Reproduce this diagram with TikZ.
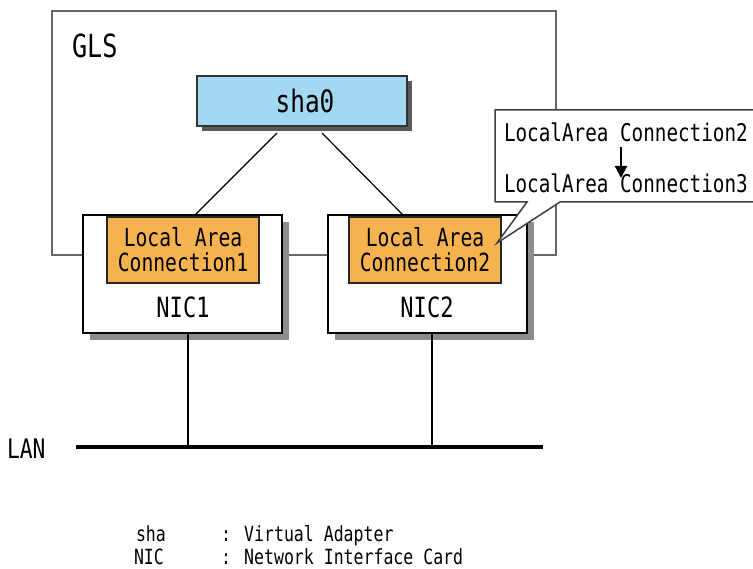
\documentclass[tikz,border=0pt]{standalone}
\usepackage{fontspec}
\newfontfamily\monof[FakeStretch=0.79]{DejaVu Sans Mono}
\usetikzlibrary{calc,shadows,arrows.meta}
\definecolor{shablue}{HTML}{A3D8F2}
\definecolor{lacorange}{HTML}{F5B350}
\newcommand\fsz[2]{\fontsize{#1}{#2}\selectfont}
\begin{document}
\begin{tikzpicture}[x=1bp,y=-1bp,
  every node/.style={inner sep=0pt, outer sep=0pt},
  glsbox/.style={draw=black!60, line width=1.6bp, minimum width=504bp, minimum height=244bp},
  nicbox/.style={draw=black, fill=white, line width=1.4bp, minimum width=199bp, minimum height=118bp,
    drop shadow={shadow xshift=7bp, shadow yshift=-7bp, fill=black!45, opacity=1}},
  lacbox/.style={draw=black!85, fill=lacorange, line width=1.2bp, minimum width=152bp, minimum height=66bp,
    align=center, font=\monof\fsz{25}{25}},
  shabox/.style={draw=black!80, fill=shablue, line width=1.5bp, minimum width=210bp, minimum height=50bp,
    font=\monof\fsz{31}{31},
    drop shadow={shadow xshift=5bp, shadow yshift=-5bp, fill=black!65, opacity=1}},
  bigtxt/.style={font=\monof\fsz{28}{28}},
  glstxt/.style={font=\monof\fsz{32}{32}},
  calltxt/.style={font=\monof\fsz{24.5}{24.5}, anchor=base west},
  legtxt/.style={font=\monof\fsz{21}{21}, anchor=base west},
  conn/.style={draw=black, line width=1.2bp},
  lan/.style={draw=black, line width=4.5bp}
]
\useasboundingbox (0,0) rectangle (753,569);
\clip (0,0) rectangle (753,569);

% GLS container
\node[glsbox] (gls) at (304,133) {};
\node[glstxt, anchor=base west] (glslabel) at (72,58) {GLS};

% NIC cards
\node[nicbox] (nic1) at (182.5,274) {};
\node[nicbox] (nic2) at (427.5,274) {};
\node[bigtxt, anchor=base] (nic1label) at (183,317) {NIC1};
\node[bigtxt, anchor=base] (nic2label) at (427,317) {NIC2};

% Local Area Connection boxes
\node[lacbox] (lac1) at (183,250) {Local Area\\Connection1};
\node[lacbox] (lac2) at (425,250) {Local Area\\Connection2};

% Virtual adapter
\node[shabox] (sha0) at (302,101) {\hspace*{6bp}sha0};

% connectors sha0 -> LACs
\draw[conn] ([xshift=-25bp,yshift=-7bp]sha0.south) -- ([xshift=12bp,yshift=2bp]lac1.north);
\draw[conn] ([xshift=20bp,yshift=-7bp]sha0.south) -- ([xshift=-22bp,yshift=2bp]lac2.north);

% LAN
\coordinate (lanL) at (76,447);
\coordinate (lanR) at (543,447);
\draw[lan] (lanL) -- (lanR);
\node[bigtxt, anchor=base west, font=\monof\fsz{27}{27}] (lanlabel) at (7,458) {LAN};
\draw[conn] (nic1.south) ++(5.5bp,0) coordinate (d1) -- (d1 |- lanL);
\draw[conn] (nic2.south) ++(4.5bp,0) coordinate (d2) -- (d2 |- lanL);

% callout
\coordinate (tip) at ([xshift=-4bp,yshift=7bp]lac2.east);
\draw[draw=black!75, fill=white, line width=1.5bp, line join=miter]
  (495,110) -- (775,110) -- (775,202) -- (560,202) -- (tip) -- (527,202) -- (495,202) -- cycle;
\node[calltxt] (c1) at (504,142) {LocalArea Connection2};
\node[calltxt] (c2) at (504,193) {LocalArea Connection3};
\draw[line width=2.2bp, -{Triangle[length=12bp,width=12bp]}] (621,147) -- (621,178);

% legend
\node[legtxt] (l1a) at (136,541) {sha};
\node[legtxt] (l1b) at (221,541) {: Virtual Adapter};
\node[legtxt] (l2a) at (134,564) {NIC};
\node[legtxt] (l2b) at (221,564) {: Network Interface Card};
\end{tikzpicture}
\end{document}
